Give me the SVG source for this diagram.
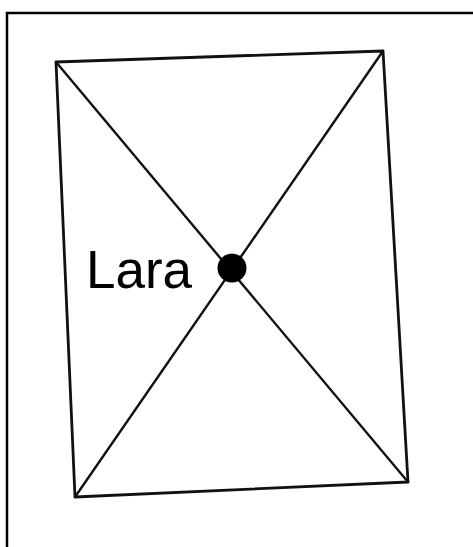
<svg xmlns="http://www.w3.org/2000/svg" width="473" height="547" viewBox="0 0 473 547">
<style>
.frame{fill:none;stroke:#000;stroke-width:2.5}
.edge{fill:none;stroke:#111;stroke-width:2.8;stroke-linejoin:round;stroke-linecap:round}
.diag{fill:none;stroke:#111;stroke-width:2.4;stroke-linecap:round}
.lbl{font-family:"Liberation Sans",Arial,sans-serif;font-size:53px;fill:#000}
</style>
<rect width="473" height="547" fill="#fff"/>
<rect class="frame" x="7" y="13" width="480" height="550"/>
<g id="quad">
<path class="edge" d="M56,62 L383,51 L408,482 L75,497 Z"/>
</g>
<g id="connectors">
<line class="diag" x1="56" y1="62" x2="408" y2="482"/>
<line class="diag" x1="383" y1="51" x2="75" y2="497"/>
</g>
<g id="lara">
<circle cx="232" cy="268" r="14.5" fill="#000"/>
<text class="lbl" x="86" y="288">Lara</text>
</g>
</svg>
